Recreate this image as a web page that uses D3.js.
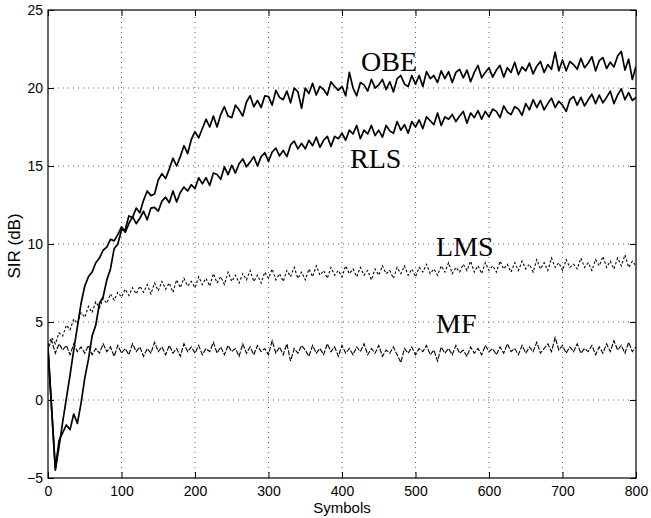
<!DOCTYPE html>
<html><head><meta charset="utf-8">
<script src="https://cdn.jsdelivr.net/npm/d3@7"></script>
<style>body{margin:0;background:#fff}svg{display:block}</style>
</head><body>
<svg id="c" width="651" height="518"></svg>
<script>
const step = 5; // symbols between stored samples
const xTicks = [0,100,200,300,400,500,600,700,800];
const yTicks = [-5,0,5,10,15,20,25];
const seriesNames = ["OBE","RLS","LMS","MF"];

const obe = [
3.3,-0.6,-4.4,-2.6,-2.1,-1.6,-1.9,-0.9,-1.5,-0.2,
1.4,2.6,4.1,4.8,6.2,6.6,7.7,8.4,9.7,10.0,
10.9,10.9,11.8,11.7,12.3,12.0,12.8,13.4,13.1,13.2,
14.1,14.5,14.2,14.8,15.5,15.0,15.6,16.3,15.8,16.7,
17.2,16.8,17.4,18.0,17.5,18.2,17.5,18.3,18.8,18.2,
18.1,18.9,18.6,18.2,19.1,19.5,18.8,19.2,18.75,19.5,
19.45,18.9,19.85,19.4,19.25,19.8,19.05,20.0,19.75,18.7,
20.0,19.65,20.3,19.55,20.1,19.9,19.55,20.4,20.1,19.85,
20.1,19.5,21.0,20.0,19.5,20.35,20.2,19.8,20.55,20.0,
20.2,20.55,19.9,20.4,19.75,20.6,20.8,20.25,20.1,20.8,
20.25,20.8,20.1,21.05,20.6,20.8,20.35,21.1,20.6,21.05,
20.35,21.0,21.2,20.65,21.15,20.4,21.0,21.45,20.65,21.0,
21.3,20.7,21.15,21.45,20.7,21.3,21.0,21.65,20.85,21.35,
21.1,21.6,20.9,21.4,21.7,21.0,21.5,21.2,22.3,21.1,
21.8,21.1,21.7,21.5,21.2,21.9,21.3,21.6,22.0,21.1,
21.75,21.95,21.25,21.65,21.35,22.05,22.35,21.15,21.85,20.55,
21.4];
const rls = [
3.3,-0.6,-4.5,-3.0,-1.4,0.1,1.6,3.2,4.7,6.2,
7.3,7.9,8.2,8.8,9.1,9.6,9.8,10.3,10.2,10.6,
11.1,10.75,11.3,11.75,11.3,11.65,12.1,11.55,12.3,12.35,
12.1,12.75,13.0,12.65,13.4,12.7,13.3,13.65,13.4,13.8,
13.55,14.25,13.85,14.25,13.75,14.55,14.45,14.15,14.95,14.45,
15.05,14.55,15.15,15.45,14.95,15.25,15.6,15.0,15.6,15.85,
15.3,15.9,16.15,15.65,16.0,15.6,16.35,16.6,16.1,16.45,
16.1,16.65,16.3,16.85,16.2,16.65,16.9,16.25,16.9,16.75,
17.1,16.65,17.3,17.05,17.6,16.75,17.3,17.05,17.6,16.95,
17.3,16.85,17.6,17.25,17.1,17.85,17.3,17.65,17.1,17.85,
17.5,17.95,17.4,18.15,17.9,17.65,18.4,17.6,18.15,18.0,
18.3,17.85,18.2,18.5,17.75,18.4,18.1,18.55,18.0,18.5,
18.15,18.65,18.5,18.1,18.85,18.45,18.3,18.8,18.65,18.25,
19.0,18.6,19.25,18.75,19.2,18.6,19.0,19.35,18.75,19.15,
18.9,18.5,19.25,19.45,18.9,19.4,18.85,19.25,19.6,19.0,
19.55,19.05,19.4,19.8,19.0,19.55,19.95,19.25,19.7,19.2,
19.4];
const lms = [
3.5,4.0,3.6,4.3,4.1,4.8,4.5,5.2,4.9,5.6,
5.3,6.0,5.6,6.3,5.9,6.5,6.2,6.8,6.4,6.9,
6.6,7.1,6.7,7.2,6.8,7.3,6.9,7.4,6.8,7.5,
7.0,7.6,7.1,7.5,6.9,7.7,7.2,7.8,7.3,7.6,
7.2,7.9,7.4,7.8,7.3,8.1,7.5,7.9,7.4,8.2,
7.6,8.0,7.5,8.1,7.7,8.3,7.6,8.0,7.5,8.2,
7.8,8.4,7.7,8.1,7.6,8.3,7.9,8.5,7.8,8.2,
7.7,8.4,7.9,8.6,8.0,8.3,7.8,8.5,8.0,8.3,
7.9,8.6,8.1,8.4,7.9,8.5,8.0,8.3,7.7,8.4,
8.0,8.6,8.1,8.3,7.8,8.5,8.1,8.6,8.0,8.4,
7.9,8.5,8.2,8.7,8.1,8.4,8.0,8.6,8.2,8.8,
8.1,8.5,8.2,8.7,8.3,8.9,8.2,8.6,8.1,8.8,
8.3,8.6,8.2,8.9,8.4,8.7,8.2,8.8,8.3,8.9,
8.4,8.7,8.2,9.0,8.4,8.8,8.3,9.1,8.5,8.8,
8.3,9.0,8.5,8.7,8.4,9.1,8.5,8.8,8.3,9.0,
8.6,9.2,8.5,8.9,8.4,9.1,8.6,9.3,8.5,8.9,
8.6];
const mf = [
3.3,3.8,3.0,3.6,3.2,3.5,2.9,3.6,3.1,3.4,
3.0,3.5,2.9,3.3,3.0,3.6,3.1,3.4,2.8,3.5,
3.0,3.3,2.9,3.6,3.1,3.4,2.8,3.3,3.0,3.7,
3.1,3.4,2.9,3.5,3.0,3.3,2.8,3.6,3.1,3.4,
3.0,3.5,2.9,3.3,3.1,3.7,3.0,3.4,2.9,3.5,
3.1,3.3,2.8,3.6,3.0,3.4,2.9,3.5,3.1,3.3,
2.9,3.8,3.0,3.4,2.9,3.6,2.5,3.3,3.0,3.5,
3.2,2.8,3.5,3.0,3.3,2.9,3.6,3.1,3.4,2.8,
3.5,3.0,3.3,2.9,3.4,3.1,3.6,2.9,3.3,3.0,
3.5,2.8,3.2,3.0,3.4,2.9,2.4,3.3,3.0,3.4,
2.9,3.3,3.1,3.5,2.9,3.2,2.5,3.4,3.0,3.3,
2.9,3.5,3.0,3.2,2.8,3.4,3.0,3.3,2.9,3.5,
3.1,3.3,2.9,3.4,3.0,3.6,3.1,3.3,2.9,3.5,
3.0,3.4,3.1,3.7,3.0,3.3,3.6,3.1,4.0,3.2,
3.5,3.0,3.4,3.1,3.6,3.0,3.3,3.1,3.5,2.9,
3.4,3.0,3.6,3.1,3.8,3.2,3.5,3.0,3.7,3.1,
3.4];

const M = {l:48, r:15, t:10, b:40};
const W = 651, H = 518;
const svg = d3.select("#c");
const x = d3.scaleLinear().domain([0,800]).range([M.l, W-M.r]);
const y = d3.scaleLinear().domain([-5,25]).range([H-M.b, M.t]);
const sans = "'Liberation Sans', Arial, Helvetica, sans-serif";
const serif = "'Liberation Serif', 'Times New Roman', serif";

// grid
const g = svg.append("g");
g.selectAll(".vg").data(xTicks.slice(1,-1)).join("line")
  .attr("x1",d=>x(d)).attr("x2",d=>x(d)).attr("y1",y(-5)).attr("y2",y(25))
  .attr("stroke","#333").attr("stroke-width",0.8).attr("stroke-dasharray","1,4");
g.selectAll(".hg").data(yTicks.slice(1,-1)).join("line")
  .attr("x1",x(0)).attr("x2",x(800)).attr("y1",d=>y(d)).attr("y2",d=>y(d))
  .attr("stroke","#333").attr("stroke-width",0.8).attr("stroke-dasharray","1,4");

// clip
svg.append("clipPath").attr("id","pc").append("rect")
  .attr("x",x(0)).attr("y",y(25)).attr("width",x(800)-x(0)).attr("height",y(-5)-y(25));

const line = d3.line().x((d,i)=>x(i*step)).y(d=>y(d));
const lg = svg.append("g").attr("clip-path","url(#pc)");
lg.append("path").datum(mf).attr("d",line).attr("fill","none").attr("stroke","#000")
  .attr("stroke-width",1.1).attr("stroke-dasharray","5,1.5");
lg.append("path").datum(lms).attr("d",line).attr("fill","none").attr("stroke","#000")
  .attr("stroke-width",1.1).attr("stroke-dasharray","2.5,2");
lg.append("path").datum(rls).attr("d",line).attr("fill","none").attr("stroke","#000")
  .attr("stroke-width",1.7).attr("stroke-linejoin","round");
lg.append("path").datum(obe).attr("d",line).attr("fill","none").attr("stroke","#000")
  .attr("stroke-width",1.7).attr("stroke-linejoin","round");

// axes (MATLAB style, inward ticks on all sides)
const tl = 6;
svg.append("g").attr("transform",`translate(0,${y(-5)})`)
  .call(d3.axisBottom(x).tickValues(xTicks).tickSizeInner(-tl).tickSizeOuter(0).tickPadding(8))
  .call(a=>{a.select(".domain").remove(); a.selectAll("text").attr("font-family",sans).attr("font-size",14).attr("fill","#000");});
svg.append("g").attr("transform",`translate(0,${y(25)})`)
  .call(d3.axisTop(x).tickValues(xTicks).tickSizeInner(-tl).tickSizeOuter(0).tickFormat(""))
  .call(a=>a.select(".domain").remove());
svg.append("g").attr("transform",`translate(${x(0)},0)`)
  .call(d3.axisLeft(y).tickValues(yTicks).tickSizeInner(-tl).tickSizeOuter(0).tickPadding(5)
     .tickFormat(d=> d<0 ? "\u2212"+Math.abs(d) : d))
  .call(a=>{a.select(".domain").remove(); a.selectAll("text").attr("font-family",sans).attr("font-size",14).attr("fill","#000");});
svg.append("g").attr("transform",`translate(${x(800)},0)`)
  .call(d3.axisRight(y).tickValues(yTicks).tickSizeInner(-tl).tickSizeOuter(0).tickFormat(""))
  .call(a=>a.select(".domain").remove());
svg.append("rect").attr("x",x(0)).attr("y",y(25)).attr("width",x(800)-x(0)).attr("height",y(-5)-y(25))
  .attr("fill","none").attr("stroke","#000").attr("stroke-width",1.2);

// axis titles
svg.append("text").attr("x",(x(0)+x(800))/2).attr("y",513).attr("text-anchor","middle")
  .attr("font-family",sans).attr("font-size",15).text("Symbols");
svg.append("text").attr("transform",`translate(20,246) rotate(-90)`).attr("text-anchor","middle")
  .attr("font-family",sans).attr("font-size",17).text("SIR (dB)");

// series labels
const labels = [
  {t:seriesNames[0], s:426, v:21.1},
  {t:seriesNames[1], s:411, v:14.85},
  {t:seriesNames[2], s:528, v:9.2},
  {t:seriesNames[3], s:528, v:4.3}
];
svg.selectAll(".lab").data(labels).join("text")
  .attr("x",d=>x(d.s)).attr("y",d=>y(d.v)).attr("text-anchor","start")
  .attr("font-family",serif).attr("font-size",28).attr("fill","#000").text(d=>d.t);
</script>
</body></html>
